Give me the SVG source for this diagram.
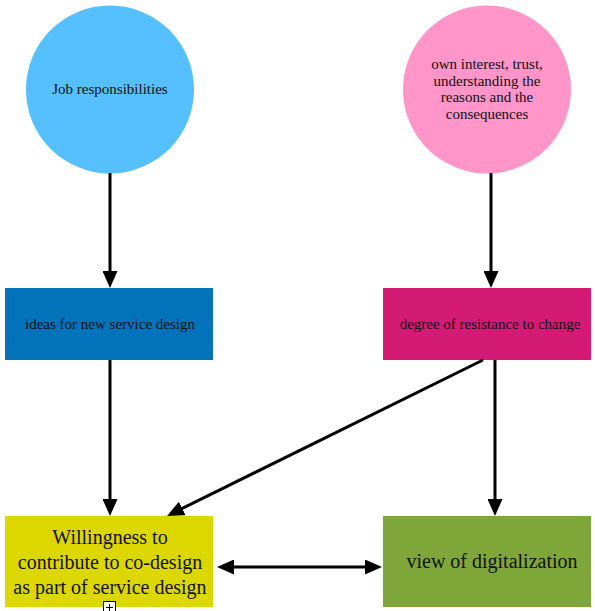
<svg xmlns="http://www.w3.org/2000/svg" width="595" height="611" viewBox="0 0 595 611">
<defs>
<marker id="ah" markerUnits="userSpaceOnUse" markerWidth="17" markerHeight="15" refX="7" refY="7.5" orient="auto-start-reverse" viewBox="0 0 17 15">
<path d="M0,0 L17,7.5 L0,15 z" fill="#000"/>
</marker>
<style>
text{font-family:"Liberation Serif","Times New Roman",serif;fill:#111;text-anchor:middle}
.s{font-size:15px}
.l{font-size:20px}
.c{stroke:#000;stroke-width:3;fill:none}
</style>
</defs>
<rect width="595" height="611" fill="#fff"/>
<g id="job">
<circle cx="110" cy="89.5" r="84" fill="#56bffe"/>
<text class="s" x="110" y="94">Job responsibilities</text>
</g>
<g id="interest">
<circle cx="487" cy="89.5" r="84" fill="#ff95c8"/>
<text class="s" x="487" y="69">own interest, trust,</text>
<text class="s" x="487" y="85.5">understanding the</text>
<text class="s" x="487" y="102">reasons and the</text>
<text class="s" x="487" y="118.5">consequences</text>
</g>
<g id="ideas">
<rect x="5" y="288" width="208" height="72" fill="#0273ba"/>
<text class="s" x="110" y="329">ideas for new service design</text>
</g>
<g id="resistance">
<rect x="383" y="288" width="208" height="72" fill="#d31a75"/>
<text class="s" x="490" y="329">degree of resistance to change</text>
</g>
<g id="willingness">
<rect x="5" y="516" width="208" height="91" fill="#dcd700"/>
<text class="l" x="110" y="544">Willingness to</text>
<text class="l" x="110" y="569">contribute to co-design</text>
<text class="l" x="110" y="594">as part of service design</text>
<rect x="103.5" y="601.5" width="12" height="12" fill="#fff" stroke="#000" stroke-width="1"/>
<path d="M106 607.5 H113 M109.5 604 V611" stroke="#000" stroke-width="1"/>
</g>
<g id="digitalization">
<rect x="383" y="516" width="208" height="91" fill="#7fa639"/>
<text class="l" x="492" y="568">view of digitalization</text>
</g>
<g id="connectors">
<line class="c" x1="110" y1="173" x2="110" y2="278" marker-end="url(#ah)"/>
<line class="c" x1="491" y1="173" x2="491" y2="278" marker-end="url(#ah)"/>
<line class="c" x1="110" y1="360" x2="110" y2="506" marker-end="url(#ah)"/>
<line class="c" x1="495" y1="360" x2="495" y2="506" marker-end="url(#ah)"/>
<line class="c" x1="483" y1="360" x2="176" y2="511.5" marker-end="url(#ah)"/>
<line class="c" x1="227" y1="567" x2="372" y2="567" marker-start="url(#ah)" marker-end="url(#ah)"/>
</g>
</svg>
